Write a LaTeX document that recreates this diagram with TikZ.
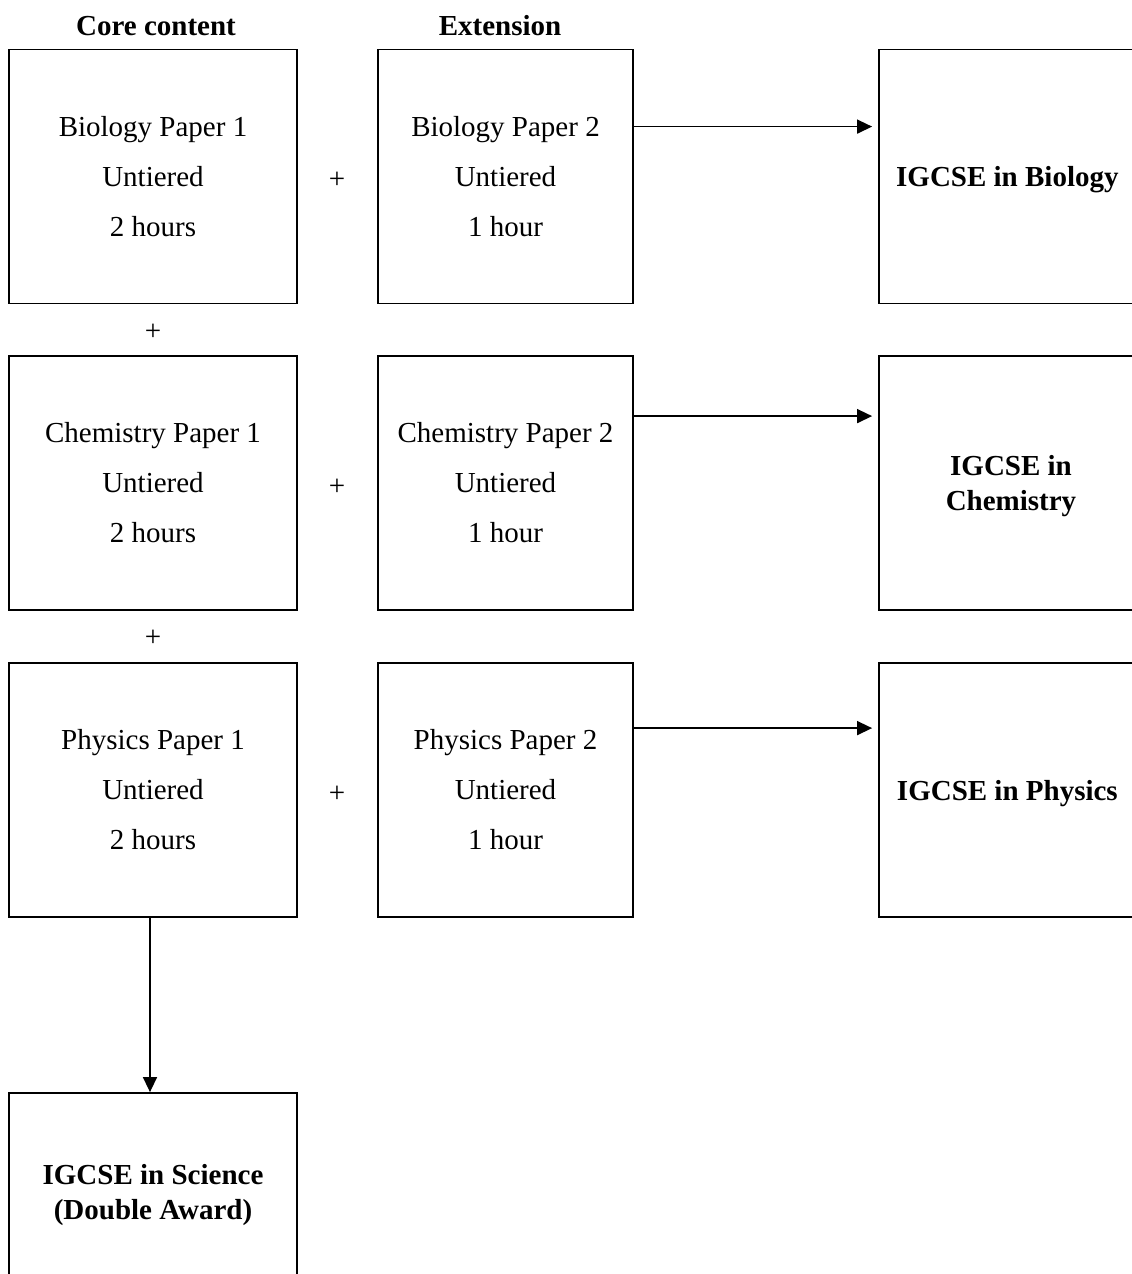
\documentclass[tikz,border=0pt]{standalone}
\usepackage{fontspec}
\setmainfont{Liberation Serif}
\usetikzlibrary{arrows.meta}

\tikzset{
  corebox/.style={draw, line width=1.8pt, minimum width=288pt, minimum height=254pt,
    inner sep=0pt, align=center, font=\fontsize{29}{50}\selectfont},
  extbox/.style={corebox, minimum width=255pt},
  awardbox/.style={corebox, minimum width=264pt, text depth=0pt, font=\fontsize{29}{35}\selectfont\bfseries},
  headtext/.style={anchor=base, font=\fontsize{29}{35}\selectfont\bfseries},
  plustext/.style={inner sep=0pt, font=\fontsize{29}{35}\selectfont},
  toaward/.style={-{Triangle[length=15pt,width=14pt]}, line width=1.5pt},
}

\begin{document}
\begin{tikzpicture}[x=1pt,y=-1pt]
        \useasboundingbox (0,0) rectangle (1132,1274);
        % draw column headings
        \draw (156,35) node[headtext] (corehead) { Core content };
        \draw (500,35) node[headtext] (exthead) { Extension };
        % draw core content papers
        \draw (153,176.5) node[corebox] (biocore) { Biology Paper 1\\ Untiered\\ 2 hours };
        \draw (153,483) node[corebox] (chemcore) { Chemistry Paper 1\\ Untiered\\ 2 hours };
        \draw (153,790) node[corebox] (phycore) { Physics Paper 1\\ Untiered\\ 2 hours };
        % draw extension papers
        \draw (505.5,176.5) node[extbox] (bioext) { Biology Paper 2\\ Untiered\\ 1 hour };
        \draw (505.5,483) node[extbox] (chemext) { Chemistry Paper 2\\ Untiered\\ 1 hour };
        \draw (505.5,790) node[extbox] (phyext) { Physics Paper 2\\ Untiered\\ 1 hour };
        % draw awards
        \draw (1011,176.5) node[awardbox] (bioaward) { IGCSE in Biology };
        \draw (1011,483) node[awardbox] (chemaward) { IGCSE in\\ Chemistry };
        \draw (1011,790) node[awardbox] (phyaward) { IGCSE in Physics };
        \draw (153,1192) node[awardbox, minimum width=288pt, minimum height=198pt] (dblaward) { IGCSE in Science\\ (Double Award) };
        % draw plus signs
        \foreach \y [count=\i] in {180, 487, 794}{
          \draw (337,\y) node[plustext] (rowplus\i) { + };
        }
        \foreach \y [count=\i] in {332, 638}{
          \draw (153,\y) node[plustext] (colplus\i) { + };
        }
        % draw arrows
        \draw[toaward, shorten >=6pt] ([yshift=-78pt]bioext.north east) -- ([yshift=-78pt]bioaward.north west);
        \draw[toaward, shorten >=6pt] ([yshift=-61pt]chemext.north east) -- ([yshift=-61pt]chemaward.north west);
        \draw[toaward, shorten >=6pt] ([yshift=-66pt]phyext.north east) -- ([yshift=-66pt]phyaward.north west);
        \draw[toaward] ([xshift=-3pt]phycore.south) -- ([xshift=-3pt]dblaward.north);
      \end{tikzpicture}
\end{document}
